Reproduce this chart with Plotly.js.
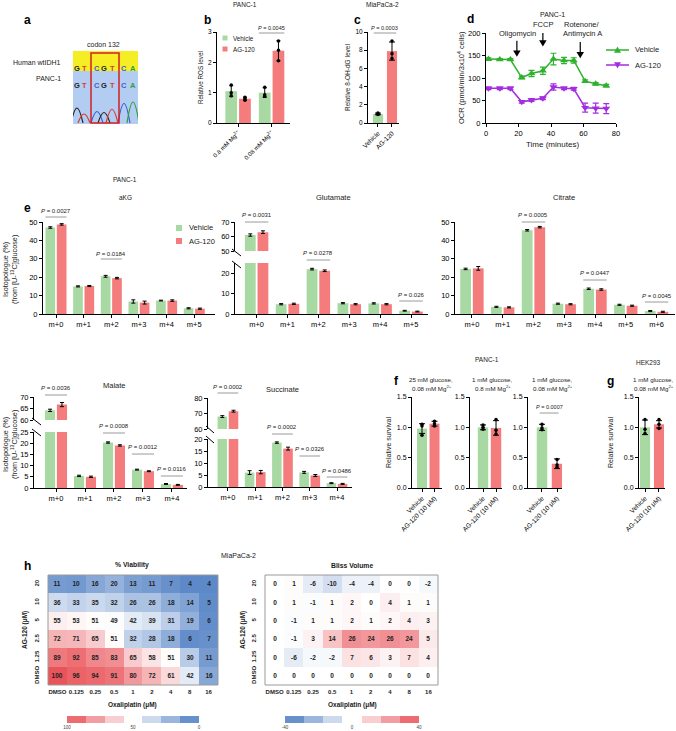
<!DOCTYPE html>
<html><head><meta charset="utf-8">
<script src="https://cdn.plot.ly/plotly-3.0.1.min.js"></script>
<style>html,body{margin:0;padding:0;background:#fff;}#chart{width:676px;height:731px;}</style>
</head><body><div id="chart"></div>
<script>
// ================= DATA =================
// a: Sanger sequencing around codon 132
const codonRef = ['G','T','C','G','T','C','A'];
const codonPanc = ['G','T','C','G','T','C','A'];
const peakPos = [4, 11, 24, 31, 39, 51, 60];
const peakHeight = [0.6, 0.36, 0.46, 0.42, 0.55, 0.78, 0.84];

// b: ROS (PANC-1)
const rosCats = ['0.8 mM Mg<sup>2+</sup>', '0.08 mM Mg<sup>2+</sup>'];
const rosVeh = [1.05, 1.0], rosVehSD = [0.18, 0.16];
const rosAg = [0.8, 2.38], rosAgSD = [0.05, 0.33];
const rosVehPts = [[1.25, 1.0, 0.9], [1.18, 0.93, 0.88]];
const rosAgPts = [[0.85, 0.8, 0.75], [2.7, 2.4, 2.05]];
const rosP = '0.0045';

// c: 8-OH-dG (MiaPaCa-2)
const ohCats = ['Vehicle', 'AG-120'];
const ohVals = [1.0, 7.9], ohSD = [0.09, 1.0];
const ohPts = [[1.1, 0.97, 0.93], [9.0, 7.6, 7.1]];
const ohP = '0.0003';

// d: OCR
const ocrTime = [1.5, 8.5, 15, 22, 28, 35, 41.5, 48, 54, 61, 67.5, 74];
const ocrVeh = [142, 141, 141, 101, 110, 116, 142, 139, 139, 93, 87, 83];
const ocrVehSD = [3, 2, 2, 3, 7, 8, 13, 7, 6, 3, 3, 3];
const ocrAg = [77, 77, 77, 47, 51, 55, 80, 77, 76, 34, 33, 32];
const ocrAgSD = [3, 3, 3, 3, 3, 3, 7, 3, 3, 10, 11, 11];
const drugTimes = [19, 35, 58];

// e: isotopologues
const iso6 = ['m+0','m+1','m+2','m+3','m+4','m+5'];
const iso7 = ['m+0','m+1','m+2','m+3','m+4','m+5','m+6'];
const iso5 = ['m+0','m+1','m+2','m+3','m+4'];
const akgVeh = [47, 15, 20.5, 6.8, 7.3, 3.1], akgVehSD = [0.4, 0.3, 0.5, 0.9, 0.2, 0.3];
const akgAg = [48.7, 15.2, 19.5, 6.2, 7.3, 2.9], akgAgSD = [0.4, 0.3, 0.4, 0.8, 0.4, 0.3];
const akgP = ['0.0027', '0.0184'], akgPCat = [0, 2];
const gluVeh = [61, 4.8, 22, 5.3, 5.2, 1.6], gluVehSD = [0.8, 0.3, 0.4, 0.3, 0.3, 0.2];
const gluAg = [63, 5.0, 21.2, 4.8, 4.8, 1.2], gluAgSD = [0.9, 0.3, 0.4, 0.3, 0.3, 0.2];
const gluP = ['0.0031', '0.0278', '0.026'], gluPCat = [0, 2, 5];
const citVeh = [24.5, 3.9, 45.5, 5.6, 13.7, 5.0, 1.6], citVehSD = [0.4, 0.3, 0.4, 0.3, 0.4, 0.3, 0.3];
const citAg = [24.8, 3.6, 47.2, 5.3, 13.3, 4.5, 1.2], citAgSD = [1.0, 0.3, 0.4, 0.3, 0.4, 0.3, 0.3];
const citP = ['0.0005', '0.0447', '0.0045'], citPCat = [2, 4, 6];
const malVeh = [64.2, 5.4, 20.3, 8.2, 1.8], malVehSD = [0.5, 0.3, 0.3, 0.2, 0.2];
const malAg = [66.7, 5.0, 19.0, 7.5, 1.4], malAgSD = [0.9, 0.3, 0.3, 0.2, 0.2];
const malP = ['0.0036', '0.0008', '0.0012', '0.0116'], malPCat = [0, 2, 3, 4];
const sucVeh = [68, 6.0, 18.5, 6.1, 1.6], sucVehSD = [0.6, 0.8, 0.3, 0.4, 0.2];
const sucAg = [71.5, 6.2, 16.0, 4.8, 1.3], sucAgSD = [0.6, 0.7, 0.6, 0.4, 0.2];
const sucP = ['0.0002', '0.0002', '0.0326', '0.0486'], sucPCat = [0, 2, 3, 4];

// f, g: survival
const survCats = ['Vehicle', 'AG-120 (10 μM)'];
const f1Vals = [0.98, 1.06], f1SD = [0.08, 0.04], f1Pts = [[1.05, 1.02, 0.87], [1.1, 1.06, 1.02]];
const f2Vals = [1.0, 0.99], f2SD = [0.04, 0.12], f2Pts = [[1.04, 1.0, 0.97], [1.13, 0.95, 0.89]];
const f3Vals = [1.0, 0.4], f3SD = [0.05, 0.08], f3Pts = [[1.05, 0.99, 0.96], [0.47, 0.38, 0.34]];
const gVals = [1.0, 1.05], gSD = [0.12, 0.06], gPts = [[1.13, 0.97, 0.9], [1.13, 1.05, 0.98]];
const f3P = '0.0007';
const f1Cond = ['25 mM glucose,', '0.08 mM Mg<sup>2+</sup>'];
const f2Cond = ['1 mM glucose,', '0.8 mM Mg<sup>2+</sup>'];
const f3Cond = ['1 mM glucose,', '0.08 mM Mg<sup>2+</sup>'];
const gCond = ['1 mM glucose,', '0.08 mM Mg<sup>2+</sup>'];

// h: heatmaps (rows bottom -> top)
const oxaliDoses = ['DMSO','0.125','0.25','0.5','1','2','4','8','16'];
const agDoses = ['DMSO','1.25','2.5','5','10','20'];
const viability = [
  [100, 96, 94, 91, 80, 72, 61, 42, 16],
  [89, 92, 85, 83, 65, 58, 51, 30, 11],
  [72, 71, 65, 51, 32, 28, 18, 6, 7],
  [55, 53, 51, 49, 42, 39, 31, 19, 6],
  [36, 33, 35, 32, 26, 26, 18, 14, 5],
  [11, 10, 16, 20, 13, 11, 7, 4, 4]
];
const bliss = [
  [0, 0, 0, 0, 0, 0, 0, 0, 0],
  [0, -6, -2, -2, 7, 6, 3, 7, 4],
  [0, -1, 3, 14, 26, 24, 26, 24, 5],
  [0, -1, 1, 1, 2, 1, 2, 4, 3],
  [0, 1, -1, 1, 2, 0, 4, 1, 1],
  [0, 1, -6, -10, -4, -4, 0, 0, -2]
];

// ================= STYLE / HELPERS =================
const W = 676, H = 731;
const GREEN = '#a8d9a3', RED = '#f47c7c', VEH_LINE = '#2eb22e', AG_LINE = '#a22ee0';
const FONT = 'Liberation Sans, Arial, sans-serif';
const BASECOL = {G:'#222222', T:'#d83a2e', C:'#3d5fcf', A:'#2f9e3a'};
const HEAT_SCALE = [[0, '#4f7fc4'], [0.5, '#ffffff'], [1, '#e9545a']];
const X = (a, b) => [a / W, b / W], Y = (t, b) => [1 - b / H, 1 - t / H];
const px = x => x / W, py = y => 1 - y / H;
const BW = 0.35, OFFV = -0.38, OFFA = 0.03;

const traces = [], shapes = [], ann = [];
const layout = {
  width: W, height: H, margin: {l: 0, r: 0, t: 0, b: 0},
  paper_bgcolor: '#fff', plot_bgcolor: 'rgba(0,0,0,0)',
  font: {family: FONT, size: 7, color: '#000'},
  showlegend: false, barmode: 'overlay', hovermode: false
};
const nm = n => (n === 1 ? '' : String(n));
function baseAxis(o) {
  return Object.assign({showgrid: false, zeroline: false, showline: true, linecolor: '#000', linewidth: 1,
    ticks: 'outside', ticklen: 3, tickwidth: 1, tickcolor: '#000', fixedrange: true,
    tickfont: {family: FONT, size: 7, color: '#000'}}, o);
}
function setX(n, dom, range, anc, o = {}) {
  const a = baseAxis(Object.assign({domain: X(dom[0], dom[1]), anchor: 'y' + nm(anc)}, o));
  if (range) a.range = range;
  layout['xaxis' + nm(n)] = a;
}
function setY(n, dom, range, anc, o = {}) {
  const a = baseAxis(Object.assign({domain: Y(dom[0], dom[1]), anchor: 'x' + nm(anc)}, o));
  if (range) a.range = range;
  layout['yaxis' + nm(n)] = a;
}
function T(text, x, y, o = {}) {
  const f = Object.assign({family: FONT, size: 7, color: '#1a1a1a'}, o.font || {});
  const a = Object.assign({text, x: px(x), y: py(y), xref: 'paper', yref: 'paper', showarrow: false,
    xanchor: 'center', yanchor: 'middle'}, o);
  a.font = f;
  ann.push(a);
}
function L(x0, y0, x1, y1, color = '#000', w = 1) {
  shapes.push({type: 'line', xref: 'paper', yref: 'paper', x0: px(x0), y0: py(y0), x1: px(x1), y1: py(y1), line: {color, width: w}});
}
function R(x0, y0, x1, y1, fill, lc, lw, layer) {
  shapes.push({type: 'rect', xref: 'paper', yref: 'paper', x0: px(x0), y0: py(y0), x1: px(x1), y1: py(y1),
    fillcolor: fill || 'rgba(0,0,0,0)', line: {color: lc || 'rgba(0,0,0,0)', width: lw || 0}, layer: layer || 'above'});
}
function tri(cx, cy, s, up, color) {
  const p = up ? [[cx - s, cy + s * 0.8], [cx + s, cy + s * 0.8], [cx, cy - s]]
               : [[cx - s, cy - s * 0.8], [cx + s, cy - s * 0.8], [cx, cy + s]];
  shapes.push({type: 'path', xref: 'paper', yref: 'paper', fillcolor: color, line: {width: 0},
    path: 'M' + p.map(q => px(q[0]) + ',' + py(q[1])).join('L') + 'Z'});
}
function bracket(axN, c0, c1, ly, ty, p, fs) {
  shapes.push({type: 'line', xref: 'x' + nm(axN), yref: 'paper', x0: c0, x1: c1, y0: py(ly), y1: py(ly), line: {color: '#808080', width: 0.8}});
  ann.push({text: '<i>P</i> = ' + p, xref: 'x' + nm(axN), yref: 'paper', x: (c0 + c1) / 2, y: py(ty), showarrow: false,
    xanchor: 'center', yanchor: 'middle', font: {family: FONT, size: fs || 6, color: '#1a1a1a'}});
}
const eb = (arr, w) => ({type: 'data', array: arr, visible: true, color: '#000', thickness: 1, width: w || 2});
function pairBars(xN, yN, veh, vehSD, ag, agSD) {
  const idx = veh.map((_, i) => i);
  traces.push({type: 'bar', x: idx, y: veh, width: BW, offset: OFFV, xaxis: 'x' + nm(xN), yaxis: 'y' + nm(yN),
    marker: {color: GREEN, line: {width: 0}}, error_y: eb(vehSD, 2)});
  traces.push({type: 'bar', x: idx, y: ag, width: BW, offset: OFFA, xaxis: 'x' + nm(xN), yaxis: 'y' + nm(yN),
    marker: {color: RED, line: {width: 0}}, error_y: eb(agSD, 2)});
}
function singleBars(xN, vals, sd, w) {
  traces.push({type: 'bar', x: vals.map((_, i) => i), y: vals, width: w, xaxis: 'x' + nm(xN), yaxis: 'y' + nm(xN),
    marker: {color: [GREEN, RED], line: {width: 0}}, error_y: eb(sd, 3)});
}
function dots(xN, pts, off) {
  const x = [], y = [];
  pts.forEach((arr, i) => arr.forEach(v => { x.push(i + off); y.push(v); }));
  traces.push({type: 'scatter', mode: 'markers', x, y, xaxis: 'x' + nm(xN), yaxis: 'y' + nm(xN),
    marker: {color: '#000', size: 3.5}, cliponaxis: false});
}
const idxOf = arr => arr.map((_, i) => i);
const BOLD = n => '<b>' + n + '</b>';

// ================= a =================
setX(1, [73, 138], [0, 65], 1, {visible: false});
setY(1, [98, 123], [0, 1], 1, {visible: false});
R(73, 51, 138, 71, '#f6ee25', null, 0, 'below');
R(73, 71, 138, 124, '#b3cdf2', null, 0, 'below');
peakPos.forEach((p, i) => {
  traces.push({type: 'scatter', mode: 'lines', x: [p - 6, p, p + 6], y: [0, peakHeight[i], 0],
    xaxis: 'x', yaxis: 'y', line: {shape: 'spline', smoothing: 1.3, color: BASECOL[codonPanc[i]], width: 1.2}});
  ann.push({text: codonRef[i], x: p, y: py(62), xref: 'x', yref: 'paper', showarrow: false,
    font: {family: FONT, size: 7.5, color: BASECOL[codonRef[i]], weight: 'bold'}});
  ann.push({text: codonPanc[i], x: p, y: py(79), xref: 'x', yref: 'paper', showarrow: false,
    font: {family: FONT, size: 7.5, color: BASECOL[codonPanc[i]], weight: 'bold'}});
});
R(91, 53, 119, 123, null, '#d42020', 1.5, 'above');
T(BOLD('a'), 27, 20, {font: {size: 12, color: '#000'}});
T('codon 132', 103, 44);
T('Human wtIDH1', 63, 62, {xanchor: 'right'});
T('PANC-1', 63, 79, {xanchor: 'right'});

// ================= b =================
setX(2, [217, 290], [-0.63, 1.55], 2, {tickvals: [0, 1], ticktext: rosCats, tickangle: -45, tickfont: {family: FONT, size: 6, color: '#000'}});
setY(2, [32, 123], [0, 3], 2, {dtick: 1, tickfont: {family: FONT, size: 6.5, color: '#000'}});
pairBars(2, 2, rosVeh, rosVehSD, rosAg, rosAgSD);
dots(2, rosVehPts, OFFV + BW / 2);
dots(2, rosAgPts, OFFA + BW / 2);
bracket(2, 1 + OFFV, 1 + OFFA + BW, 33, 28, rosP, 5.5);
T(BOLD('b'), 207, 20, {font: {size: 12, color: '#000'}});
T('PANC-1', 245, 5, {font: {size: 6.5}});
T('Relative ROS level', 200, 78, {textangle: -90, font: {size: 6.3}});
R(222.5, 35.5, 227.5, 40.5, GREEN); T('Vehicle', 231, 38, {xanchor: 'left', font: {size: 6.3}});
R(222.5, 46.5, 227.5, 51.5, RED); T('AG-120', 231, 49, {xanchor: 'left', font: {size: 6.3}});

// ================= c =================
setX(3, [368, 399], [-0.71, 1.5], 3, {tickvals: [0, 1], ticktext: ohCats, tickangle: -45, tickfont: {family: FONT, size: 6.5, color: '#000'}});
setY(3, [32, 123], [0, 10], 3, {dtick: 2, tickfont: {family: FONT, size: 6.5, color: '#000'}});
singleBars(3, ohVals, ohSD, 0.72);
dots(3, ohPts, 0);
bracket(3, -0.3, 1.3, 33, 28, ohP, 5.5);
T(BOLD('c'), 357, 20, {font: {size: 12, color: '#000'}});
T('MiaPaCa-2', 382, 5, {font: {size: 6.5}});
T('Relative 8-OH-dG level', 347, 78, {textangle: -90, font: {size: 6.5}});

// ================= d =================
setX(4, [486, 616], [0, 80], 4, {dtick: 20, tickfont: {family: FONT, size: 7.5, color: '#000'}});
setY(4, [33, 123], [0, 200], 4, {dtick: 50, tickfont: {family: FONT, size: 7.5, color: '#000'}});
traces.push({type: 'scatter', mode: 'lines+markers', x: ocrTime, y: ocrVeh, xaxis: 'x4', yaxis: 'y4',
  line: {color: VEH_LINE, width: 1.5}, marker: {symbol: 'triangle-up', size: 7, color: VEH_LINE},
  error_y: {type: 'data', array: ocrVehSD, visible: true, color: VEH_LINE, thickness: 1.2, width: 3}});
traces.push({type: 'scatter', mode: 'lines+markers', x: ocrTime, y: ocrAg, xaxis: 'x4', yaxis: 'y4',
  line: {color: AG_LINE, width: 1.5}, marker: {symbol: 'triangle-down', size: 7, color: AG_LINE},
  error_y: {type: 'data', array: ocrAgSD, visible: true, color: AG_LINE, thickness: 1.2, width: 3}});
// injection arrows (tip heights in y units)
[147, 170, 144].forEach((tip, i) => {
  const t = drugTimes[i];
  shapes.push({type: 'line', xref: 'x4', yref: 'y4', x0: t, x1: t, y0: tip + 10, y1: tip + 36, line: {color: '#000', width: 1.2}});
  shapes.push({type: 'path', xref: 'x4', yref: 'y4', fillcolor: '#000', line: {width: 0},
    path: `M${t - 2.3},${tip + 14}L${t + 2.3},${tip + 14}L${t},${tip}Z`});
});
T('Oligomycin', 517, 33, {font: {size: 7.5}});
T('FCCP', 543, 24, {font: {size: 7.5}});
T('Rotenone/', 582, 24, {font: {size: 7.5}});
T('Antimycin A', 582, 34, {font: {size: 7.5}});
T(BOLD('d'), 471, 19, {font: {size: 12, color: '#000'}});
T('PANC-1', 552, 14, {font: {size: 7}});
T('OCR (pmol/min/3x10<sup>4</sup> cells)', 461, 78, {textangle: -90, font: {size: 7.5}});
T('Time (minutes)', 552, 144, {font: {size: 8}});
L(606, 50, 629, 50, VEH_LINE, 1.5); tri(617.5, 50, 3.5, true, VEH_LINE);
T('Vehicle', 633, 50, {xanchor: 'left', font: {size: 7.5}});
L(606, 65, 629, 65, AG_LINE, 1.5); tri(617.5, 65, 3.5, false, AG_LINE);
T('AG-120', 633, 65, {xanchor: 'left', font: {size: 7.5}});

// ================= e =================
const ETF = {family: FONT, size: 7.5, color: '#000'};
// aKG
setX(5, [43, 215], [-0.47, 5.75], 5, {tickvals: idxOf(iso6), ticktext: iso6, tickfont: ETF});
setY(5, [222, 314], [0, 50], 5, {dtick: 10, tickfont: ETF});
pairBars(5, 5, akgVeh, akgVehSD, akgAg, akgAgSD);
bracket(5, akgPCat[0] + OFFV, akgPCat[0] + OFFA + BW, 217, 211, akgP[0]);
bracket(5, akgPCat[1] + OFFV, akgPCat[1] + OFFA + BW, 259, 254, akgP[1]);
// Glutamate (broken axis)
setX(6, [235, 428], [-0.7, 5.55], 6, {tickvals: idxOf(iso6), ticktext: iso6, tickfont: ETF});
setY(6, [263, 314], [0, 25], 6, {tickvals: [0, 10, 20], tickfont: ETF});
setY(7, [222, 251], [50, 70], 6, {tickvals: [50, 60, 70], tickfont: ETF});
pairBars(6, 6, gluVeh, gluVehSD, gluAg, gluAgSD);
pairBars(6, 7, gluVeh, gluVehSD, gluAg, gluAgSD);
L(232, 249, 241, 256); L(232, 261, 241, 268);
bracket(6, gluPCat[0] + OFFV, gluPCat[0] + OFFA + BW, 222, 215, gluP[0]);
bracket(6, gluPCat[1] + OFFV, gluPCat[1] + OFFA + BW, 260, 253, gluP[1]);
bracket(6, gluPCat[2] + OFFV, gluPCat[2] + OFFA + BW, 301, 295, gluP[2]);
// Citrate
setX(8, [455, 675], [-0.55, 6.6], 8, {tickvals: idxOf(iso7), ticktext: iso7, tickfont: ETF});
setY(8, [222, 314], [0, 50], 8, {dtick: 10, tickfont: ETF});
pairBars(8, 8, citVeh, citVehSD, citAg, citAgSD);
bracket(8, citPCat[0] + OFFV, citPCat[0] + OFFA + BW, 222, 215, citP[0]);
bracket(8, citPCat[1] + OFFV, citPCat[1] + OFFA + BW, 280, 273, citP[1]);
bracket(8, citPCat[2] + OFFV, citPCat[2] + OFFA + BW, 302, 296, citP[2]);
// Malate (broken)
setX(9, [34, 187], [-0.76, 4.52], 9, {tickvals: idxOf(iso5), ticktext: iso5, tickfont: ETF});
setY(9, [432, 488], [0, 25], 9, {dtick: 5, tickfont: ETF});
setY(10, [397, 420], [60, 70], 9, {dtick: 5, tickfont: ETF});
pairBars(9, 9, malVeh, malVehSD, malAg, malAgSD);
pairBars(9, 10, malVeh, malVehSD, malAg, malAgSD);
L(32, 418, 41, 425); L(32, 429, 41, 436);
bracket(9, malPCat[0] + OFFV, malPCat[0] + OFFA + BW, 395, 388, malP[0]);
bracket(9, malPCat[1] + OFFV, malPCat[1] + OFFA + BW, 433, 426, malP[1]);
bracket(9, malPCat[2] + OFFV, malPCat[2] + OFFA + BW, 454, 447, malP[2]);
bracket(9, malPCat[3] + OFFV, malPCat[3] + OFFA + BW, 476, 469, malP[3]);
// Succinate (broken)
setX(11, [208, 352], [-0.73, 4.55], 11, {tickvals: idxOf(iso5), ticktext: iso5, tickfont: ETF});
setY(11, [439, 487], [0, 20], 11, {dtick: 5, tickfont: ETF});
setY(12, [398, 429], [60, 80], 11, {dtick: 10, tickfont: ETF});
pairBars(11, 11, sucVeh, sucVehSD, sucAg, sucAgSD);
pairBars(11, 12, sucVeh, sucVehSD, sucAg, sucAgSD);
L(206, 426, 214, 433); L(206, 436, 214, 443);
bracket(11, sucPCat[0] + OFFV, sucPCat[0] + OFFA + BW, 393, 387, sucP[0]);
bracket(11, sucPCat[1] + OFFV, sucPCat[1] + OFFA + BW, 434, 427, sucP[1]);
bracket(11, sucPCat[2] + OFFV, sucPCat[2] + OFFA + BW, 456, 449, sucP[2]);
bracket(11, sucPCat[3] + OFFV, sucPCat[3] + OFFA + BW, 477, 471, sucP[3]);
// e texts
T(BOLD('e'), 27, 208, {font: {size: 12, color: '#000'}});
T('PANC-1', 125, 179, {font: {size: 6.5}});
T('aKG', 125, 197, {font: {size: 6.5}});
T('Glutamate', 333, 197, {font: {size: 7.5}});
T('Citrate', 564, 197, {font: {size: 7.5}});
T('Malate', 114, 385, {font: {size: 7.5}});
T('Succinate', 282, 389, {font: {size: 7.5}});
T('Isotopologue (%)<br>(from [U-<sup>13</sup>C]glucose)', 10, 270, {textangle: -90, font: {size: 7.3}});
T('Isotopologue (%)<br>(from [U-<sup>13</sup>C]glucose)', 10, 445, {textangle: -90, font: {size: 7.3}});
R(176, 225, 182, 231, GREEN); T('Vehicle', 187, 228, {xanchor: 'left', font: {size: 7.5}});
R(176, 238, 182, 244, RED); T('AG-120', 187, 241, {xanchor: 'left', font: {size: 7.5}});

// ================= f, g =================
const FTF = {family: FONT, size: 7, color: '#000'};
const FXT = {family: FONT, size: 6.5, color: '#000'};
[[13, [412, 442], [-0.8, 1.6], f1Vals, f1SD, f1Pts, 0.8],
 [14, [470, 502], [-1.0, 1.46], f2Vals, f2SD, f2Pts, 0.8],
 [15, [528, 562], [-0.93, 1.33], f3Vals, f3SD, f3Pts, 0.7],
 [16, [639, 665], [-0.43, 1.43], gVals, gSD, gPts, 0.72]].forEach(p => {
  setX(p[0], p[1], p[2], p[0], {tickvals: [0, 1], ticktext: survCats, tickangle: -45, tickfont: FXT});
  setY(p[0], [397, 488], [0, 1.5], p[0], {dtick: 0.5, tickformat: '.1f', tickfont: FTF});
  singleBars(p[0], p[3], p[4], p[6]);
  dots(p[0], p[5], 0);
});
bracket(15, -0.15, 1.1, 413, 407, f3P, 5.5);
T(BOLD('f'), 396, 381, {font: {size: 12, color: '#000'}});
T(BOLD('g'), 610, 381, {font: {size: 12, color: '#000'}});
T('PANC-1', 487, 359, {font: {size: 6.5}});
T('HEK293', 648, 362, {font: {size: 6.5}});
T('Relative survival', 388, 443, {textangle: -90, font: {size: 7}});
T('Relative survival', 610, 443, {textangle: -90, font: {size: 7}});
[[f1Cond, 431], [f2Cond, 492], [f3Cond, 552], [gCond, 653]].forEach(c => {
  T(c[0][0], c[1], 379, {font: {size: 6.2}});
  T(c[0][1], c[1] + 1, 388, {font: {size: 6.2}});
});

// ================= h =================
const HTF = {family: FONT, size: 6, color: '#222', weight: 'bold'};
[[17, [48, 218], viability, 0, 100], [18, [265, 438], bliss, -40, 40]].forEach(h => {
  setX(h[0], h[1], null, h[0], {type: 'category', showline: false, ticks: '', tickangle: 0, tickfont: HTF, ticklabelstandoff: 2});
  setY(h[0], [575, 685], null, h[0], {type: 'category', showline: false, ticks: '', tickangle: -90, tickfont: HTF, ticklabelstandoff: 7});
  traces.push({type: 'heatmap', x: oxaliDoses, y: agDoses, z: h[2], text: h[2].map(r => r.map(String)),
    xaxis: 'x' + h[0], yaxis: 'y' + h[0],
    colorscale: HEAT_SCALE, zmin: h[3], zmax: h[4], showscale: false,
    texttemplate: '<b>%{text}</b>', textfont: {family: FONT, size: 6.5, color: '#222'}});
  shapes.push({type: 'rect', xref: 'x' + h[0] + ' domain', yref: 'y' + h[0] + ' domain', x0: 0, x1: 1, y0: 0, y1: 1,
    line: {color: '#9a9a9a', width: 1}});
});
// colour keys (7 blocks)
[[19, [67, 199], 0, 100, [100, 0], [100, 50, 0]], [20, [285, 419], -40, 40, [-40, 40], [-40, 0, 40]]].forEach(c => {
  const n = 7, step = (c[3] - c[2]) / n;
  const centers = Array.from({length: n}, (_, i) => c[2] + step * (i + 0.5));
  setX(c[0], c[1], c[4], c[0], {showline: false, ticks: '', tickvals: c[5], ticktext: c[5].map(String),
    tickfont: {family: FONT, size: 4.5, color: '#444'}});
  setY(c[0], [716, 723], [-0.5, 0.5], c[0], {visible: false});
  traces.push({type: 'heatmap', x: centers, y: [0], z: [centers], xaxis: 'x' + c[0], yaxis: 'y' + c[0],
    colorscale: HEAT_SCALE, zmin: c[2], zmax: c[3], showscale: false});
});
T(BOLD('h'), 27, 566, {font: {size: 12, color: '#000'}});
T('MiaPaCa-2', 238, 555, {font: {size: 7}});
T('<b>% Viability</b>', 132, 565, {font: {size: 6.8}});
T('<b>Bliss Volume</b>', 352, 565, {font: {size: 6.8}});
T('<b>Oxaliplatin (μM)</b>', 132, 705, {font: {size: 6.5}});
T('<b>Oxaliplatin (μM)</b>', 352, 705, {font: {size: 6.5}});
T('<b>AG-120 (μM)</b>', 25, 630, {textangle: -90, font: {size: 6.5}});
T('<b>AG-120 (μM)</b>', 243, 630, {textangle: -90, font: {size: 6.5}});

// common trace settings
traces.forEach(t => { t.hoverinfo = 'skip'; t.showlegend = false; });
layout.shapes = shapes;
layout.annotations = ann;
Plotly.newPlot('chart', traces, layout, {staticPlot: true, displayModeBar: false});
</script>
</body></html>
